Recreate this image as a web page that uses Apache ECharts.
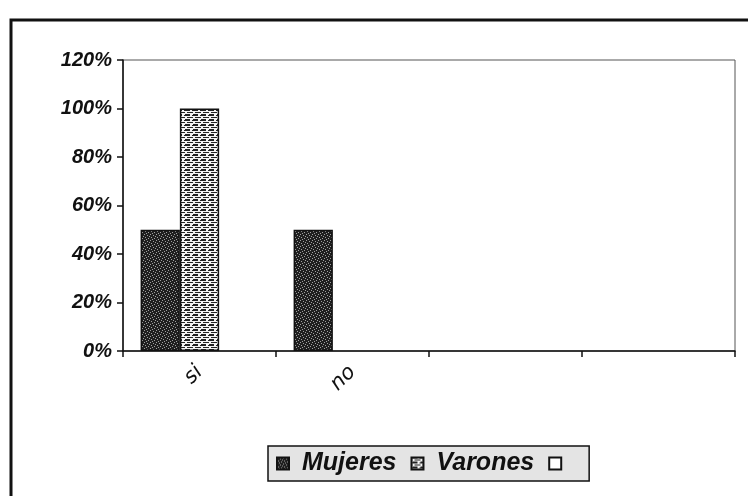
<!DOCTYPE html>
<html>
<head>
<meta charset="utf-8">
<script src="https://cdn.jsdelivr.net/npm/echarts@6/dist/echarts.min.js"></script>
<style>
  html, body { margin: 0; padding: 0; background: #fff; }
  #chart { width: 748px; height: 496px; }
</style>
</head>
<body>
<div id="chart"></div>
<script>
// datos del gráfico
const categorias = ['si', 'no', '', '']
const mujeres = [0.5, 0.5, null, null]
const varones = [1.0, null, null, null]
const otros = [null, null, null, null]
const nombres = ['Mujeres', 'Varones', ' ']

// trama oscura moteada (Mujeres)
function tramaOscura () {
  const c = document.createElement('canvas')
  c.width = 6; c.height = 6
  const ctx = c.getContext('2d')
  ctx.fillStyle = '#1f1f1f'
  ctx.fillRect(0, 0, 6, 6)
  ctx.fillStyle = '#a0a0a0'
  ;[[0, 0], [3, 1], [1, 3], [4, 4], [5, 2], [2, 5]].forEach(p => ctx.fillRect(p[0], p[1], 1, 1))
  return c
}
// trama de ladrillos horizontales (Varones)
function tramaLadrillo () {
  const c = document.createElement('canvas')
  c.width = 8; c.height = 5
  const ctx = c.getContext('2d')
  ctx.fillStyle = '#f4f4f4'
  ctx.fillRect(0, 0, 8, 5)
  ctx.fillStyle = '#222'
  ctx.fillRect(0, 0, 6, 1)
  ctx.fillRect(3, 2, 5, 1)
  ctx.fillRect(0, 2, 1, 1)
  ctx.fillRect(1, 4, 5, 1)
  return c
}

const myChart = echarts.init(document.getElementById('chart'))
const fuente = '"Liberation Sans", Arial, sans-serif'

const option = {
  animation: false,
  backgroundColor: '#fff',
  graphic: [
    {
      type: 'rect',
      shape: { x: 11, y: 20, width: 760, height: 500 },
      style: { fill: 'none', stroke: '#111', lineWidth: 3 },
      silent: true
    }
  ],
  grid: {
    left: 123,
    right: 13,
    top: 60,
    bottom: 145,
    show: true,
    borderColor: '#555',
    borderWidth: 1
  },
  legend: {
    left: 268,
    top: 446,
    padding: [5, 8, 5, 8],
    backgroundColor: '#e4e4e4',
    borderColor: '#111',
    borderWidth: 1.5,
    borderRadius: 0,
    itemWidth: 12,
    itemHeight: 12,
    itemGap: 14,
    icon: 'rect',
    textStyle: {
      fontFamily: fuente,
      fontSize: 25,
      fontWeight: 'bold',
      fontStyle: 'italic',
      color: '#111',
      padding: [0, 0, 0, 8]
    },
    data: nombres
  },
  xAxis: {
    type: 'category',
    data: categorias,
    boundaryGap: true,
    axisLine: { lineStyle: { color: '#111', width: 1.5 } },
    axisTick: { show: true, length: 6, lineStyle: { color: '#111', width: 1.5 } },
    axisLabel: {
      rotate: 45,
      margin: 18,
      fontFamily: '"DejaVu Sans", sans-serif',
      fontStyle: 'italic',
      fontSize: 21,
      color: '#111'
    }
  },
  yAxis: {
    type: 'value',
    min: 0,
    max: 1.2,
    interval: 0.2,
    axisLine: { show: true, lineStyle: { color: '#111', width: 1.5 } },
    axisTick: { show: true, length: 6, lineStyle: { color: '#111', width: 1.5 } },
    splitLine: { show: false },
    axisLabel: {
      margin: 11,
      fontFamily: fuente,
      fontSize: 20,
      fontWeight: 'bold',
      fontStyle: 'italic',
      color: '#111',
      formatter: v => Math.round(v * 100) + '%'
    }
  },
  series: [
    {
      name: nombres[0],
      type: 'bar',
      data: mujeres,
      barGap: '0%',
      barCategoryGap: '23%',
      itemStyle: {
        color: { image: tramaOscura(), repeat: 'repeat' },
        borderColor: '#111',
        borderWidth: 1.5
      }
    },
    {
      name: nombres[1],
      type: 'bar',
      data: varones,
      itemStyle: {
        color: { image: tramaLadrillo(), repeat: 'repeat' },
        borderColor: '#111',
        borderWidth: 1.5
      }
    },
    {
      name: nombres[2],
      type: 'bar',
      data: otros,
      itemStyle: {
        color: '#fff',
        borderColor: '#111',
        borderWidth: 1.5
      }
    }
  ]
}

myChart.setOption(option)
</script>
</body>
</html>
